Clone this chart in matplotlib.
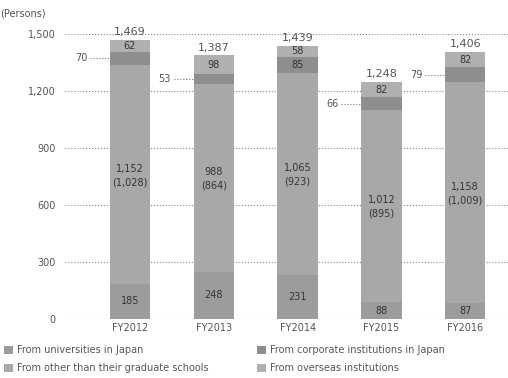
import numpy as np
import matplotlib.pyplot as plt
from matplotlib.patches import Rectangle

# number of persons per fiscal year, stacked bottom -> top
years = ['FY2012', 'FY2013', 'FY2014', 'FY2015', 'FY2016']
univ = [185, 248, 231, 88, 87]
other = [1152, 988, 1065, 1012, 1158]
other_sub = [1028, 864, 923, 895, 1009]
corp = [70, 53, 85, 66, 79]
overseas = [62, 98, 58, 82, 82]

legend_left = ['From universities in Japan',
               'From other than their graduate schools']
legend_right = ['From corporate institutions in Japan',
                'From overseas institutions']

txt = '#555555'
cols = ['#9c9c9c', '#a8a8a8', '#8e8e8e', '#b0b0b0']

fig = plt.figure(figsize=(5.08, 3.78), dpi=100)
ax = fig.add_axes([0.128, 0.156, 0.872, 0.754])

x = np.arange(len(years))
w = 0.48
bottom = np.zeros(len(years))
for vals, c in zip([univ, other, corp, overseas], cols):
    ax.bar(x, vals, w, bottom=bottom, color=c, zorder=2, linewidth=0)
    bottom = bottom + np.array(vals)
totals = bottom

for i in range(len(years)):
    b0 = univ[i]
    b1 = b0 + other[i]
    b2 = b1 + corp[i]
    ax.text(x[i], b0 / 2, str(univ[i]), ha='center', va='center', fontsize=7, color='#333333', zorder=3)
    ax.text(x[i], b0 + other[i] / 2 + 30, '{:,}'.format(other[i]), ha='center', va='center',
            fontsize=7, color='#333333', zorder=3)
    ax.text(x[i], b0 + other[i] / 2 - 40, '({:,})'.format(other_sub[i]), ha='center', va='center',
            fontsize=7, color='#333333', zorder=3)
    # small segment: label inside if it fits, else with a leader on the left
    if corp[i] >= 80:
        ax.text(x[i], b1 + corp[i] / 2, str(corp[i]), ha='center', va='center',
                fontsize=7, color='#333333', zorder=3)
    else:
        ym = b1 + corp[i] / 2
        ax.plot([x[i] - w / 2 - 0.24, x[i] - w / 2], [ym, ym], ls=':', color='#777777', lw=0.8)
        ax.text(x[i] - w / 2 - 0.27, ym, str(corp[i]), ha='right', va='center',
                fontsize=7, color=txt)
    ax.text(x[i], b2 + overseas[i] / 2, str(overseas[i]), ha='center', va='center',
            fontsize=7, color='#333333', zorder=3)
    ax.text(x[i], totals[i] + 15, '{:,}'.format(int(totals[i])), ha='center', va='bottom',
            fontsize=8, color=txt)

ax.set_xlim(-0.774, 4.51)
ax.set_ylim(0, 1500)
ax.set_yticks(np.arange(0, 1501, 300))
ax.set_yticklabels(['{:,}'.format(v) for v in range(0, 1501, 300)])
ax.set_xticks(x)
ax.set_xticklabels(years)
ax.tick_params(length=0, labelsize=7, colors=txt, pad=3)
ax.tick_params(axis='y', pad=7)
ax.grid(axis='y', ls=':', color='#888888', lw=0.8, zorder=0)
for s in ax.spines.values():
    s.set_visible(False)

fig.text(0.0, 0.965, '(Persons)', fontsize=7, color=txt, ha='left', va='center')

# legend rows under the chart, two columns
rows_y = [1 - 350 / 378, 1 - 368 / 378]
for col_x, labels, c_off in [(4, legend_left, 0), (257, legend_right, 2)]:
    for j, lab in enumerate(labels):
        fig.patches.append(Rectangle((col_x / 508, rows_y[j] - 0.011), 9 / 508, 0.022,
                                     transform=fig.transFigure, facecolor=cols[c_off + j],
                                     linewidth=0))
        fig.text((col_x + 13) / 508, rows_y[j], lab, fontsize=7, color=txt,
                 ha='left', va='center')

fig.savefig('out.png', dpi=100)
